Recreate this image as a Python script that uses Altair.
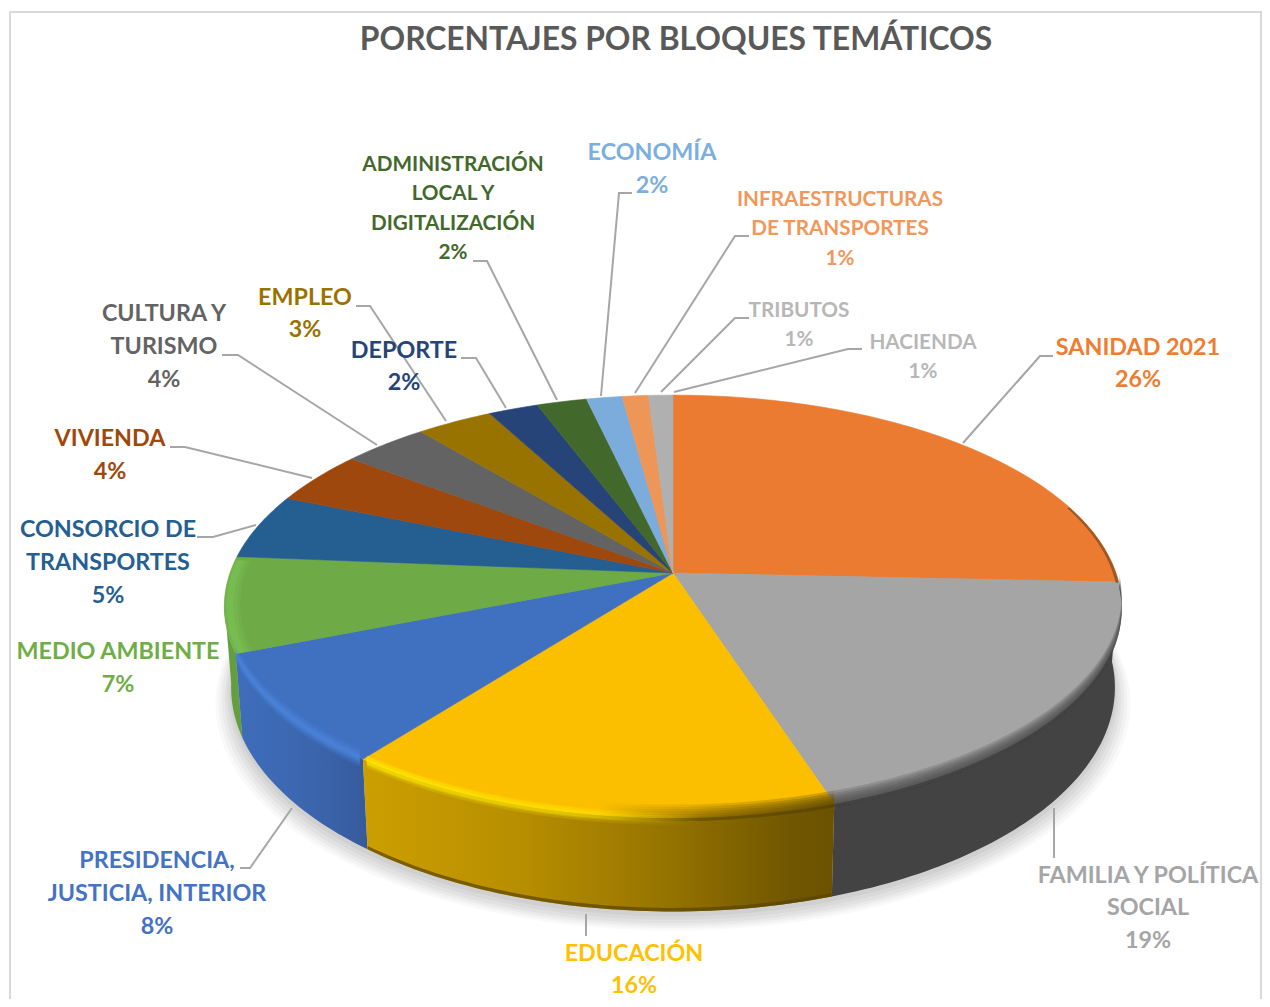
import math
import altair as alt
import pandas as pd

TITLE = "PORCENTAJES POR BLOQUES TEMÁTICOS"
CATEGORIES = ["SANIDAD 2021", "FAMILIA Y POLÍTICA SOCIAL", "EDUCACIÓN", "PRESIDENCIA, JUSTICIA, INTERIOR",
              "MEDIO AMBIENTE", "CONSORCIO DE TRANSPORTES", "VIVIENDA", "CULTURA Y TURISMO", "EMPLEO",
              "DEPORTE", "ADMINISTRACIÓN LOCAL Y DIGITALIZACIÓN", "ECONOMÍA",
              "INFRAESTRUCTURAS DE TRANSPORTES", "TRIBUTOS", "HACIENDA"]
VALUES = [25.7, 19.3, 15.5, 8.49, 7.3, 5.0, 4.1, 3.6, 3.2, 2.1, 2.1, 1.5, 1.1, 0.02, 1.0]
PERCENTS = ["26%", "19%", "16%", "8%", "7%", "5%", "4%", "4%", "3%", "2%", "2%", "2%", "1%", "1%", "1%"]
COLORS = ["#ea7b31", "#a5a5a5", "#fbbf00", "#4070c0", "#6eaa46", "#255e91", "#9e480e", "#636363", "#997300",
          "#264478", "#43682b", "#7cacdc", "#ed9658", "#b0b0b0", "#b0b0b0"]
TEXT_COLORS = ["#ed7d31", "#a5a5a5", "#ffc000", "#4472c4", "#70ad47", "#255e91", "#9e480e", "#636363", "#997300",
               "#264478", "#43682b", "#7cafdd", "#f1975a", "#b7b7b7", "#b7b7b7"]
LABEL_LINES = [["SANIDAD 2021"], ["FAMILIA Y POLÍTICA", "SOCIAL"], ["EDUCACIÓN"], ["PRESIDENCIA,", "JUSTICIA, INTERIOR"],
               ["MEDIO AMBIENTE"], ["CONSORCIO DE", "TRANSPORTES"], ["VIVIENDA"], ["CULTURA Y", "TURISMO"], ["EMPLEO"],
               ["DEPORTE"], ["ADMINISTRACIÓN", "LOCAL Y", "DIGITALIZACIÓN"], ["ECONOMÍA"],
               ["INFRAESTRUCTURAS", "DE TRANSPORTES"], ["TRIBUTOS"], ["HACIENDA"]]

# layout (page pixels)
W, H = 1254, 991
OX, OY = 8, 8
CX, CY, A, B, P = 673, 573, 443, 206, 0.158
WALL, BOTTOM_SCALE = 79, 0.985
LABEL_X = [1138, 1148, 634, 157, 118, 108, 110, 164, 305, 404, 453, 652, 840, 799, 923]
LABEL_Y = [347.5, 875.5, 954, 860.5, 651.5, 529.5, 438.5, 313.5, 297.5, 350.5, 164.5, 152.5, 199.5, 310.5, 342.5]
LINE_STEP = [32.5, 32.5, 32, 33, 33, 33, 33, 33, 32, 32, 29.5, 33, 29.5, 29, 29]
LABEL_SIZE = [23.3, 23.3, 23.3, 23.3, 23.3, 23.3, 23.3, 23.3, 23.3, 23.3, 20.7, 23.3, 20.7, 20.7, 20.7]
LEADERS = [
    [(1053, 356), (1040, 356), (963, 443)],
    [(1054, 808), (1054, 858)],
    [(586, 914), (586, 936)],
    [(292, 808), (250, 868), (240, 868)],
    [(256, 525), (213, 537), (197, 537)],
    [(312, 478), (185, 447), (170, 447)],
    [(377, 445), (238, 355), (222, 355)],
    [(446, 421), (370, 306), (356, 306)],
    [(506, 408), (476, 358), (461, 358)],
    [(557, 400), (487, 261), (473, 261)],
    [(601, 396), (619, 193), (632, 193)],
    [(635, 393), (735, 236), (749, 236)],
    [(661, 392), (735, 318), (749, 318)],
    [(674, 392), (848, 349), (862, 349)],
]


def pt(theta, r=1.0, h=0.0, s=1.0):
    t = math.radians(theta)
    u, v = r * math.sin(t), r * math.cos(t)
    d = 1 + P * v
    return [CX + A * u * s / d, CY + (-B * v + h) / d]


def arc(a, b, **kw):
    n = max(2, int(abs(b - a)) + 2)
    return [pt(a + (b - a) * i / (n - 1), **kw) for i in range(n)]


def shape(points, fill, opacity=1.0, stroke="transparent", sw=0):
    feature = {"type": "Feature", "properties": {},
               "geometry": {"type": "Polygon", "coordinates": [points + [points[0]]]}}
    return alt.Chart(alt.Data(values=[feature])).mark_geoshape(
        fill=fill, stroke=stroke, strokeWidth=sw, opacity=opacity
    ).project(type="identity", scale=1, translate=[-OX, -OY])


def grad(*stops):
    return alt.Gradient(gradient="linear", x1=0, x2=1, y1=0, y2=0,
                        stops=[alt.GradientStop(offset=o, color=c) for o, c in stops])


def band(a, b, r0, r1, fill, opacity=1.0):
    return shape(arc(a, b, r=r1) + arc(b, a, r=r0), fill, opacity)


def hband(a, b, h0, h1, fill, opacity=1.0):
    return shape(arc(a, b, h=h1) + arc(b, a, h=h0), fill, opacity)


total = sum(VALUES)
edges = [0.0]
for v_ in VALUES:
    edges.append(edges[-1] + 360 * v_ / total)
S, F, E, Pr, M = [(edges[i], edges[i + 1]) for i in range(5)]
LEFT_LIMIT = 261.0

layers = []

# frame
frame = pd.DataFrame({"x": [10, 10, 1261, 1261], "y": [1100, 12, 12, 1100], "i": [0, 1, 2, 3]})

sx = alt.Scale(domain=[OX, OX + W], nice=False, zero=False)
sy = alt.Scale(domain=[OY + H, OY], nice=False, zero=False)
layers.append(alt.Chart(frame).mark_line(color="#d9d9d9", strokeWidth=2, clip=True).encode(
    x=alt.X("x:Q", scale=sx, axis=None), y=alt.Y("y:Q", scale=sy, axis=None), order="i:Q"))

# soft shadow beneath the pie
for k, (grow, dy) in enumerate([(1.035, 16), (1.028, 14), (1.021, 12), (1.014, 10), (1.008, 7), (1.003, 4)]):
    layers.append(shape(arc(0, 360, h=WALL + dy, s=BOTTOM_SCALE * grow), "#8a8a8a", 0.05 + 0.012 * k))


def wall(a, b, fill):
    return shape(arc(a, b) + arc(b, a, h=WALL, s=BOTTOM_SCALE), fill)


# side walls, back to front
layers.append(wall(M[0], LEFT_LIMIT + 1, "#659f3d"))
layers.append(wall(Pr[0], Pr[1], grad((0, "#3f6dba"), (0.5, "#3c67b0"), (1, "#365b9c"))))
layers.append(wall(F[0], F[1], "#434343"))
layers.append(wall(E[0], E[1], grad((0, "#cc9f00"), (0.35, "#b68d00"), (0.65, "#957300"), (0.9, "#715700"), (1, "#6b5200"))))
layers.append(shape(arc(E[0], E[1], h=WALL - 3, s=BOTTOM_SCALE) + arc(E[1], E[0], h=WALL, s=BOTTOM_SCALE), "#5a4500", 0.7))

# top faces
for i, c in enumerate(COLORS):
    a, b = edges[i], edges[i + 1]
    layers.append(shape([[CX, CY]] + arc(a, b), c, stroke=c, sw=0.6))

# bevel on the rim
for h0 in [-11, -9, -7, -5, -3, -1, 1]:
    layers.append(hband(F[0] + 1, F[1], h0, 3, "#434343", 0.22))
    layers.append(hband(E[0], E[1], h0, 3,
                        grad((0, "rgba(100,76,0,0)"), (0.5, "rgba(100,76,0,0)"), (0.8, "rgba(100,76,0,0.22)"), (1, "rgba(90,69,0,0.3)"))))
layers.append(band(S[1] - 22, S[1] + 0.2, 0.993, 1.0, "#7a4a20", 0.7))
for h0, h1, op in [(-8, 8, 0.2), (-6, 6, 0.28), (-4, 4, 0.36), (-2, 3, 0.45)]:
    layers.append(hband(Pr[0] + 0.5, Pr[1], h0, h1, "#4c84dc", op))
for h0, h1, op in [(-5, 6, 0.2), (-4, 4, 0.3), (-2, 3, 0.4)]:
    layers.append(hband(E[0] + 0.6, E[1] - 0.6, h0, h1,
                        grad((0, "rgba(255,240,0,1)"), (0.45, "rgba(255,232,0,0.9)"), (0.72, "rgba(255,224,0,0)"), (1, "rgba(255,224,0,0)")), op))
for r0, r1, op in [(0.965, 1.0, 0.25), (0.972, 0.998, 0.3), (0.98, 0.995, 0.4)]:
    layers.append(band(M[0], M[1] - 1, r0, r1, "#7cc555", op))

# leader lines
rows = []
for g, seg in enumerate(LEADERS):
    for j, (x_, y_) in enumerate(seg):
        rows.append({"g": g, "j": j, "x": x_, "y": y_})
layers.append(alt.Chart(pd.DataFrame(rows)).mark_line(color="#a6a6a6", strokeWidth=2).encode(
    x=alt.X("x:Q", scale=sx, axis=None), y=alt.Y("y:Q", scale=sy, axis=None),
    detail="g:N", order="j:Q"))

# labels
trows = []
for i, lines in enumerate(LABEL_LINES):
    for j, t in enumerate(lines + [PERCENTS[i]]):
        trows.append({"t": t, "x": LABEL_X[i], "y": LABEL_Y[i] + j * LINE_STEP[i],
                      "c": TEXT_COLORS[i], "s": LABEL_SIZE[i]})
trows.append({"t": TITLE, "x": 676, "y": 40, "c": "#595959", "s": 31.8})
layers.append(alt.Chart(pd.DataFrame(trows)).mark_text(
    font="Lato", fontWeight="bold", align="center", baseline="middle").encode(
    x=alt.X("x:Q", scale=sx, axis=None), y=alt.Y("y:Q", scale=sy, axis=None),
    text="t:N", color=alt.Color("c:N", scale=None), size=alt.Size("s:Q", scale=None)))

chart = alt.layer(*layers).properties(
    width=W, height=H, padding=0, background="white", autosize=alt.AutoSizeParams(type="none")
).configure_view(stroke=None)

chart.save("out.html", embed_options={"renderer": "svg", "actions": False})
